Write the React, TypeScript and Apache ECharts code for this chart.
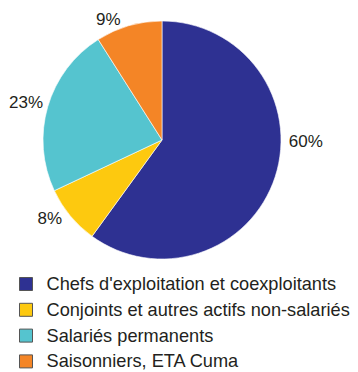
import React, { useEffect, useRef } from "react";
import * as echarts from "echarts";

const categories = [
  "Chefs d'exploitation et coexploitants",
  "Conjoints et autres actifs non-salariés",
  "Salariés permanents",
  "Saisonniers, ETA Cuma",
];
const values = [60, 8, 23, 9];
const colors = ["#2e3192", "#fdc90f", "#55c4cf", "#f48526"];

// label nudges away from the default outside placement (styling only)
const labelShift: [number, number][] = [
  [1, -38],
  [3, -2],
  [8, -2],
  [-1, 1],
];

export default function App() {
  const ref = useRef<HTMLDivElement>(null);
  useEffect(() => {
    if (!ref.current) return;
    const chart = echarts.init(ref.current, null, { renderer: "svg" });
    chart.setOption({
      animation: false,
      color: colors,
      legend: {
        orient: "vertical",
        left: 19,
        top: 275,
        height: 120,
        padding: 0,
        icon: "rect",
        itemWidth: 13,
        itemHeight: 13,
        itemGap: 7.8,
        itemStyle: { borderColor: "#555", borderWidth: 1 },
        textStyle: {
          fontFamily: '"Liberation Sans", Arial, sans-serif',
          fontSize: 18.2,
          lineHeight: 18,
          color: "#231f20",
          padding: [0, 0, 0, 9],
        },
        data: categories,
      },
      series: [
        {
          type: "pie",
          center: [162, 140],
          radius: 119,
          startAngle: 90,
          clockwise: true,
          avoidLabelOverlap: false,
          itemStyle: { borderColor: "#fff", borderWidth: 0.6 },
          label: {
            show: true,
            position: "outside",
            formatter: "{c}%",
            fontFamily: '"Liberation Sans", Arial, sans-serif',
            fontSize: 17,
            color: "#231f20",
          },
          labelLine: { show: false, length: 8, length2: 0 },
          labelLayout: (p: any) => ({
            dx: labelShift[p.dataIndex][0],
            dy: labelShift[p.dataIndex][1],
          }),
          emphasis: { disabled: true },
          data: categories.map((name, i) => ({ name, value: values[i] })),
        },
      ],
    });
    return () => chart.dispose();
  }, []);
  return (
    <div
      ref={ref}
      style={{ position: "absolute", left: 0, top: 0, width: 358, height: 372 }}
    />
  );
}
